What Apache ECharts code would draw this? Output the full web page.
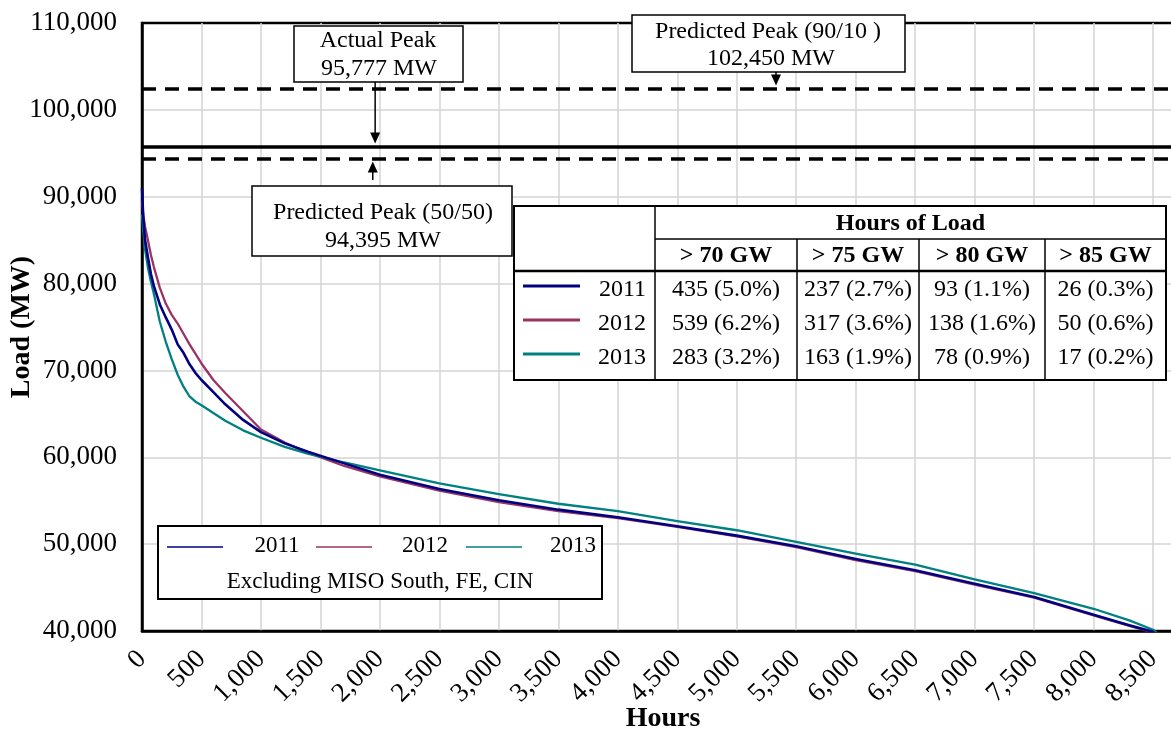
<!DOCTYPE html>
<html>
<head>
<meta charset="utf-8">
<script src="https://cdn.jsdelivr.net/npm/echarts@6/dist/echarts.min.js"></script>
<style>
  html, body { margin: 0; padding: 0; background: #ffffff; }
  #chart { width: 1171px; height: 738px; }
</style>
</head>
<body>
<div id="chart"></div>
<script>
// Load duration curves: hours of the year sorted by load (MW)
const hours = [0, 10, 25, 50, 75, 100, 150, 200, 250, 300, 350, 400, 450, 500, 600, 700, 850, 1000, 1200, 1400, 1700, 2000, 2500, 3000, 3500, 4000, 4500, 5000, 5500, 6000, 6500, 7000, 7500, 8000, 8300, 8500, 8760];
const load2011 = [91000, 87800, 85100, 83000, 81100, 79700, 77600, 76100, 74700, 73000, 72000, 70700, 69700, 68900, 67500, 66100, 64300, 62900, 61600, 60600, 59300, 58000, 56350, 55050, 53970, 53100, 52050, 50980, 49750, 48300, 46990, 45440, 43910, 41870, 40650, 39900, 36500];
const load2012 = [89600, 88000, 86600, 85000, 83300, 81900, 79500, 77700, 76400, 75400, 74200, 73000, 71900, 70800, 68900, 67400, 65300, 63200, 61700, 60500, 59000, 57800, 56150, 54850, 53800, 53000, 52000, 50900, 49650, 48150, 46900, 45350, 43850, 41800, 40600, 39850, 36400];
const load2013 = [88000, 86200, 84000, 81800, 80200, 78800, 75600, 73300, 71300, 69500, 68100, 67000, 66400, 66000, 65100, 64200, 63100, 62250, 61200, 60400, 59400, 58500, 57000, 55750, 54650, 53800, 52660, 51600, 50250, 48900, 47640, 45940, 44370, 42560, 41230, 40150, 37000];

const years = ['2011', '2012', '2013'];
const yearColors = ['#000080', '#993366', '#008080'];

// Reference peaks (MW)
const peak9010 = 102450;
const peakActual = 95777;
const peak5050 = 94395;

// Hours-of-load table
const thresholds = ['> 70 GW', '> 75 GW', '> 80 GW', '> 85 GW'];
const hoursAbove2011 = [435, 237, 93, 26];
const shareAbove2011 = ['5.0', '2.7', '1.1', '0.3'];
const hoursAbove2012 = [539, 317, 138, 50];
const shareAbove2012 = ['6.2', '3.6', '1.6', '0.6'];
const hoursAbove2013 = [283, 163, 78, 17];
const shareAbove2013 = ['3.2', '1.9', '0.9', '0.2'];

const SERIF = '"Liberation Serif", "Times New Roman", serif';

const chart = echarts.init(document.getElementById('chart'), null, { renderer: 'canvas' });

function pairs(vals) { return hours.map((h, i) => [h, vals[i]]); }

const loads = [load2011, load2012, load2013];
const zOrder = [5, 3, 4];
const widths = [2.6, 2.3, 2.3];

const series = years.map((y, i) => ({
  name: y,
  type: 'line',
  data: pairs(loads[i]),
  symbol: 'none',
  showSymbol: false,
  smooth: false,
  clip: true,
  z: zOrder[i],
  silent: true,
  lineStyle: { color: yearColors[i], width: widths[i], join: 'round' },
  itemStyle: { color: yearColors[i] }
}));

series[0].markLine = {
  silent: true,
  symbol: ['none', 'none'],
  animation: false,
  label: { show: false },
  emphasis: { disabled: true },
  data: [
    { yAxis: peak9010, lineStyle: { color: '#000', width: 3.5, type: [14, 9] } },
    { yAxis: peakActual, lineStyle: { color: '#000', width: 3.5, type: 'solid' } },
    { yAxis: peak5050, lineStyle: { color: '#000', width: 3.5, type: [14, 9] } }
  ]
};

const option = {
  animation: false,
  backgroundColor: '#ffffff',
  grid: {
    left: 142, top: 23, right: -13, bottom: 107,
    containLabel: false,
    outerBoundsMode: 'none',
    show: true, borderColor: '#000', borderWidth: 2.5
  },
  xAxis: {
    type: 'value',
    min: 0, max: 8760, interval: 500,
    axisLine: { show: true, lineStyle: { color: '#000', width: 2.5 } },
    axisTick: { show: false },
    axisLabel: {
      rotate: 45, margin: 24, showMaxLabel: false,
      fontFamily: SERIF, fontSize: 27, color: '#000',
      formatter: v => v.toLocaleString('en-US')
    },
    splitLine: { show: true, showMinLine: false, showMaxLine: false, lineStyle: { color: '#d4d4d4', width: 1.5 } }
  },
  yAxis: {
    type: 'value',
    min: 40000, max: 110000, interval: 10000,
    axisLine: { show: true, lineStyle: { color: '#000', width: 2.5 } },
    axisTick: { show: false },
    axisLabel: {
      margin: 25, fontFamily: SERIF, fontSize: 27, color: '#000',
      formatter: v => v.toLocaleString('en-US')
    },
    splitLine: { show: true, showMinLine: false, showMaxLine: false, lineStyle: { color: '#d4d4d4', width: 1.5 } }
  },
  series: series
};

chart.setOption(option);

// ---- axis titles, annotations, legend and table drawn on top of the grid ----
const px = (h, v) => chart.convertToPixel({ gridIndex: 0 }, [h, v]);
const g = [];

function rect(x, y, w, h, lw) {
  g.push({ type: 'rect', z: 100, silent: true, shape: { x, y, width: w, height: h },
           style: { fill: '#fff', stroke: '#000', lineWidth: lw || 1.5 } });
}
function line(x1, y1, x2, y2, color, lw) {
  g.push({ type: 'line', z: 102, silent: true, shape: { x1, y1, x2, y2 },
           style: { stroke: color || '#000', lineWidth: lw || 1.5 } });
}
function text(x, y, str, size, bold, align, rotation) {
  g.push({ type: 'text', z: 103, silent: true, x, y, rotation: rotation || 0,
           style: { text: str, font: (bold ? 'bold ' : '') + size + 'px ' + SERIF, fill: '#000',
                    textAlign: align || 'center', textVerticalAlign: 'middle' } });
}
function arrow(x, yFrom, yTip) {
  const dir = yTip > yFrom ? 1 : -1;
  line(x, yFrom, x, yTip - dir * 10, '#000', 1.5);
  g.push({ type: 'polygon', z: 102, silent: true,
           shape: { points: [[x - 5, yTip - dir * 12], [x + 5, yTip - dir * 12], [x, yTip - dir * 1]] },
           style: { fill: '#000' } });
}

// Axis titles
const xMid = (px(0, 40000)[0] + px(8760, 40000)[0]) / 2;
const yMid = (px(0, 40000)[1] + px(0, 110000)[1]) / 2;
text(xMid, 719, 'Hours', 28, true);
text(22, yMid, 'Load (MW)', 28, true, 'center', Math.PI / 2);

// Actual peak
const aPt = px(1960, peakActual);
rect(294, 26, 169, 56);
text(378, 41, 'Actual Peak', 24);
text(379, 69, peakActual.toLocaleString('en-US') + ' MW', 24);
arrow(aPt[0], 82, aPt[1] - 2);

// Predicted peak 90/10
const bPt = px(5330, peak9010);
rect(632, 15, 273, 57);
text(768, 32, 'Predicted Peak (90/10 )', 24);
text(771, 59, peak9010.toLocaleString('en-US') + ' MW', 24);
arrow(bPt[0], 72, bPt[1] - 2);

// Predicted peak 50/50
const cPt = px(1940, peak5050);
rect(252, 186, 260, 70);
text(383, 213, 'Predicted Peak (50/50)', 24);
text(383, 241, peak5050.toLocaleString('en-US') + ' MW', 24);
arrow(cPt[0], 180, cPt[1] + 2);

// Legend box
rect(158, 526, 444, 73, 2);
const legLineX = [167, 316, 466];
const legTextX = [277, 425, 573];
years.forEach((y, i) => {
  line(legLineX[i], 547, legLineX[i] + 56, 547, yearColors[i], 1.6);
  text(legTextX[i], 546, y, 23);
});
text(380, 582, 'Excluding MISO South, FE, CIN', 23);

// Hours-of-load table
const colX = [514, 655, 797, 919, 1045, 1166];
const rowY = [206, 239, 271, 380];
const rowMid = [290, 324, 358];
rect(colX[0], rowY[0], colX[5] - colX[0], rowY[3] - rowY[0], 2);
line(colX[1], rowY[0], colX[1], rowY[3], '#000', 1.5);
line(colX[1], rowY[1], colX[5], rowY[1], '#000', 1.5);
line(colX[0], rowY[2], colX[5], rowY[2], '#000', 2.5);
for (let c = 2; c <= 4; c++) line(colX[c], rowY[1], colX[c], rowY[3], '#000', 1.5);
text((colX[1] + colX[5]) / 2, (rowY[0] + rowY[1]) / 2 + 1, 'Hours of Load', 24, true);
thresholds.forEach((t, c) => text((colX[c + 1] + colX[c + 2]) / 2, (rowY[1] + rowY[2]) / 2 + 1, t, 24, true));
const tableHours = [hoursAbove2011, hoursAbove2012, hoursAbove2013];
const tableShare = [shareAbove2011, shareAbove2012, shareAbove2013];
years.forEach((y, r) => {
  line(523, rowMid[r] - 4, 580, rowMid[r] - 4, yearColors[r], 3);
  text(646, rowMid[r], y, 24, false, 'right');
  tableHours[r].forEach((h, c) => {
    text((colX[c + 1] + colX[c + 2]) / 2, rowMid[r], h + ' (' + tableShare[r][c] + '%)', 24);
  });
});

chart.setOption({ graphic: { elements: g } });
</script>
</body>
</html>
